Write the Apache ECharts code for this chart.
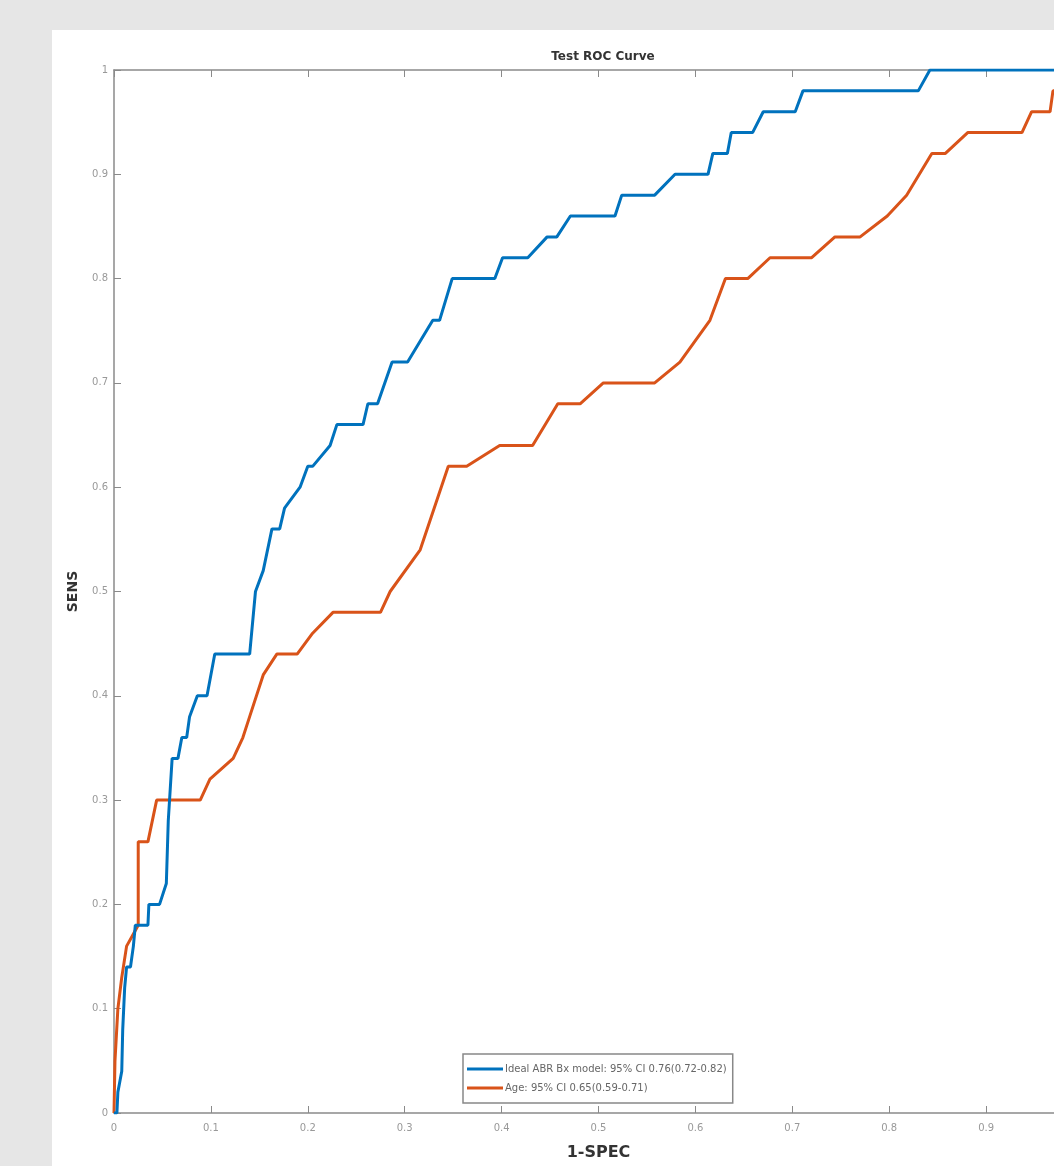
<!DOCTYPE html>
<html>
<head>
<meta charset="utf-8">
<script src="https://cdn.jsdelivr.net/npm/echarts@6/dist/echarts.min.js"></script>
<style>
html,body{margin:0;padding:0;background:#e6e6e6;}
#c{width:1054px;height:1166px;}
</style>
</head>
<body>
<div id="c"></div>
<script>
var titleText = 'Test ROC Curve';
var xName = '1-SPEC';
var yName = 'SENS';
var seriesNames = ['Ideal ABR Bx model: 95% CI 0.76(0.72-0.82)', 'Age: 95% CI 0.65(0.59-0.71)'];
var tickValues = [0,0.1,0.2,0.3,0.4,0.5,0.6,0.7,0.8,0.9,1];
var tickLabels = ['0','0.1','0.2','0.3','0.4','0.5','0.6','0.7','0.8','0.9','1'];

var blueX = [0,0.003,0.004,0.008,0.009,0.011,0.013,0.017,0.020,0.022,0.035,0.036,0.047,0.054,0.056,0.060,0.066,0.070,0.075,0.078,0.086,0.096,0.104,0.140,0.146,0.154,0.163,0.171,0.176,0.192,0.200,0.205,0.223,0.230,0.257,0.262,0.272,0.287,0.303,0.329,0.336,0.349,0.393,0.401,0.427,0.447,0.457,0.471,0.517,0.524,0.558,0.579,0.613,0.618,0.633,0.637,0.659,0.670,0.703,0.711,0.830,0.842,1];
var blueY = [0,0,0.02,0.04,0.08,0.12,0.14,0.14,0.16,0.18,0.18,0.20,0.20,0.22,0.28,0.34,0.34,0.36,0.36,0.38,0.40,0.40,0.44,0.44,0.50,0.52,0.56,0.56,0.58,0.60,0.62,0.62,0.64,0.66,0.66,0.68,0.68,0.72,0.72,0.76,0.76,0.80,0.80,0.82,0.82,0.84,0.84,0.86,0.86,0.88,0.88,0.90,0.90,0.92,0.92,0.94,0.94,0.96,0.96,0.98,0.98,1.0,1];

var orangeX = [0,0.001,0.004,0.008,0.013,0.019,0.025,0.025,0.035,0.044,0.089,0.099,0.123,0.133,0.140,0.154,0.168,0.189,0.205,0.226,0.275,0.285,0.316,0.345,0.364,0.398,0.432,0.458,0.481,0.505,0.558,0.584,0.615,0.631,0.654,0.677,0.720,0.744,0.770,0.798,0.818,0.844,0.858,0.881,0.937,0.947,0.966,0.969,0.985,1];
var orangeY = [0,0.05,0.10,0.13,0.16,0.17,0.18,0.26,0.26,0.30,0.30,0.32,0.34,0.36,0.38,0.42,0.44,0.44,0.46,0.48,0.48,0.50,0.54,0.62,0.62,0.64,0.64,0.68,0.68,0.70,0.70,0.72,0.76,0.80,0.80,0.82,0.82,0.84,0.84,0.86,0.88,0.92,0.92,0.94,0.94,0.96,0.96,0.98,0.98,1];

function pairs(xs, ys){ return xs.map(function(x,i){ return [x, ys[i]]; }); }

var labelFmt = function(v){
  var i = tickValues.findIndex(function(t){ return Math.abs(t - v) < 1e-9; });
  return i >= 0 ? tickLabels[i] : '';
};

var axisColor = '#8a8a8a';
var chart = echarts.init(document.getElementById('c'), null, {renderer:'canvas'});
chart.setOption({
  backgroundColor: '#e6e6e6',
  animation: false,
  graphic: [{
    type: 'rect', z: -10, silent: true,
    shape: {x: 52, y: 30, width: 1010, height: 1140},
    style: {fill: '#ffffff'}
  }],
  title: {
    text: titleText, left: 598, top: 46, textAlign: 'center',
    textStyle: {fontFamily: 'DejaVu Sans', fontSize: 12, fontWeight: 'bold', color: '#333'}
  },
  legend: {
    orient: 'vertical', left: 463, top: 1054,
    backgroundColor: '#fff', borderColor: '#888', borderWidth: 1.5,
    padding: [10, 6, 10, 4], itemGap: 9,
    itemWidth: 36, itemHeight: 3, icon: 'rect',
    textStyle: {fontFamily: 'DejaVu Sans', fontSize: 10, color: '#666', padding: [0,0,0,-3]},
    data: seriesNames
  },
  grid: {left: 114, top: 70, width: 969, height: 1043, outerBoundsMode: 'none', containLabel: false},
  xAxis: [{
    type: 'value', min: 0, max: 1, interval: 0.1, position: 'bottom',
    name: xName, nameLocation: 'middle', nameGap: 32,
    nameTextStyle: {fontFamily: 'DejaVu Sans', fontSize: 16, fontWeight: 'bold', color: '#333'},
    axisLine: {show: true, onZero: false, lineStyle: {color: axisColor, width: 1.5}},
    axisTick: {show: true, inside: true, length: 7, lineStyle: {color: axisColor}},
    axisLabel: {fontFamily: 'DejaVu Sans', fontSize: 10, color: '#999', margin: 10, formatter: labelFmt},
    splitLine: {show: false}
  }, {
    type: 'value', min: 0, max: 1, interval: 0.1, position: 'top',
    axisLine: {show: true, onZero: false, lineStyle: {color: axisColor, width: 1.5}},
    axisTick: {show: true, inside: true, length: 7, lineStyle: {color: axisColor}},
    axisLabel: {show: false}, splitLine: {show: false}
  }],
  yAxis: [{
    type: 'value', min: 0, max: 1, interval: 0.1, position: 'left',
    name: yName, nameLocation: 'middle', nameGap: 34, nameRotate: 90,
    nameTextStyle: {fontFamily: 'DejaVu Sans', fontSize: 14, fontWeight: 'bold', color: '#333'},
    axisLine: {show: true, onZero: false, lineStyle: {color: axisColor, width: 1.5}},
    axisTick: {show: true, inside: true, length: 7, lineStyle: {color: axisColor}},
    axisLabel: {fontFamily: 'DejaVu Sans', fontSize: 10, color: '#999', margin: 6, formatter: labelFmt},
    splitLine: {show: false}
  }, {
    type: 'value', min: 0, max: 1, interval: 0.1, position: 'right',
    axisLine: {show: true, onZero: false, lineStyle: {color: axisColor, width: 1.5}},
    axisTick: {show: true, inside: true, length: 7, lineStyle: {color: axisColor}},
    axisLabel: {show: false}, splitLine: {show: false}
  }],
  series: [{
    name: seriesNames[0], type: 'line', xAxisIndex: 0, yAxisIndex: 0,
    data: pairs(blueX, blueY), showSymbol: false, symbol: 'none',
    lineStyle: {color: '#0072BD', width: 3}, itemStyle: {color: '#0072BD'}, z: 3
  }, {
    name: seriesNames[1], type: 'line', xAxisIndex: 0, yAxisIndex: 0,
    data: pairs(orangeX, orangeY), showSymbol: false, symbol: 'none',
    lineStyle: {color: '#D95319', width: 3}, itemStyle: {color: '#D95319'}, z: 2
  }]
});
</script>
</body>
</html>
